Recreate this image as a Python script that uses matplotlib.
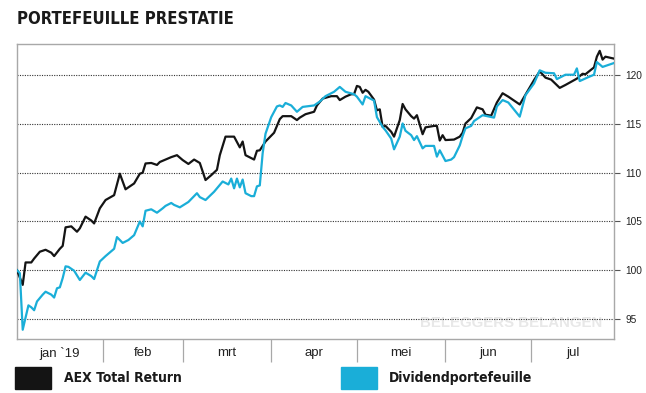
import matplotlib
matplotlib.use('Agg')
import matplotlib.pyplot as plt
import matplotlib.dates as mdates
import pandas as pd
from matplotlib.patches import Rectangle
from matplotlib import font_manager

# days after 1 jan 2019 and index values
aex_days = [1, 3, 4, 6, 7, 9, 11, 13, 14, 16, 17, 18, 20, 22, 23, 25, 27, 28, 30, 32,
            35, 37, 38, 39, 42, 44, 45, 46, 48, 50, 51, 55, 57, 59, 61, 63, 65, 67, 69, 71,
            72, 74, 77, 79, 80, 81, 84, 85, 86, 88, 91, 93, 94, 97, 99, 100, 102, 105, 106, 108,
            111, 113, 114, 116, 118, 119, 120, 121, 122, 123, 124, 126, 127, 128, 129, 130, 132, 133, 135, 136,
            137, 139, 140, 141, 143, 144, 147, 148, 149, 150, 151, 154, 156, 157, 158, 160, 162, 164, 165, 167,
            169, 171, 173, 177, 179, 182, 184, 186, 188, 191, 193, 197, 199, 200, 203, 204, 205, 206, 207, 210]
aex_vals = [100.0, 98.5, 100.8, 100.8, 101.2, 101.9, 102.1, 101.8, 101.45, 102.2, 102.5, 104.4, 104.5, 103.95, 104.3, 105.5, 105.1, 104.8, 106.35, 107.2,
            107.7, 109.9, 109.1, 108.3, 108.9, 109.9, 110.0, 110.95, 111.0, 110.8, 111.1, 111.6, 111.8, 111.3, 110.9, 111.35, 111.0, 109.25, 109.75, 110.3,
            111.8, 113.7, 113.7, 112.6, 113.2, 111.8, 111.35, 112.25, 112.3, 113.2, 114.1, 115.5, 115.8, 115.8, 115.4, 115.65, 116.0, 116.25, 116.9, 117.6,
            117.85, 117.85, 117.45, 117.8, 118.05, 118.05, 118.9, 118.8, 118.2, 118.5, 118.3, 117.5, 116.4, 116.5, 114.7, 114.8, 114.2, 113.7, 115.4, 117.05,
            116.5, 115.8, 115.55, 115.9, 113.95, 114.65, 114.8, 114.8, 113.3, 113.85, 113.35, 113.4, 113.7, 114.1, 115.05, 115.6, 116.7, 116.5, 115.95, 115.85,
            117.2, 118.15, 117.8, 117.0, 118.0, 119.5, 120.4, 119.75, 119.55, 118.7, 119.0, 119.65, 120.15, 120.1, 120.8, 121.9, 122.5, 121.6, 121.9, 121.7]

div_days = [1, 2, 3, 5, 6, 7, 8, 10, 11, 13, 14, 15, 16, 17, 18, 19, 21, 23, 25, 27,
            28, 30, 32, 35, 36, 38, 40, 42, 44, 45, 46, 48, 50, 52, 53, 55, 56, 58, 61, 64,
            65, 67, 70, 73, 75, 76, 77, 78, 79, 80, 81, 83, 84, 85, 86, 87, 88, 90, 92, 93,
            94, 95, 97, 99, 101, 105, 107, 109, 112, 114, 116, 119, 120, 122, 123, 126, 127, 129, 130, 132,
            133, 135, 136, 137, 139, 140, 141, 143, 144, 147, 148, 149, 151, 153, 154, 156, 157, 158, 160, 161,
            164, 168, 169, 171, 173, 177, 179, 182, 184, 186, 189, 190, 193, 196, 197, 198, 201, 203, 204, 206, 210]
div_vals = [100.0, 99.7, 93.9, 96.4, 96.2, 95.9, 96.8, 97.5, 97.8, 97.5, 97.2, 98.15, 98.25, 99.2, 100.4, 100.35, 99.95, 99.0, 99.75, 99.4,
            99.1, 100.9, 101.45, 102.2, 103.4, 102.8, 103.1, 103.6, 105.0, 104.5, 106.1, 106.25, 105.9, 106.35, 106.6, 106.9, 106.7, 106.45, 107.0, 107.9,
            107.5, 107.2, 108.05, 109.1, 108.8, 109.4, 108.4, 109.4, 108.5, 109.3, 107.9, 107.6, 107.6, 108.6, 108.7, 112.0, 114.0, 115.7, 116.8, 116.9,
            116.75, 117.15, 116.9, 116.25, 116.75, 116.9, 117.3, 117.85, 118.3, 118.8, 118.3, 118.05, 117.8, 117.0, 117.85, 117.4, 115.7, 114.7, 114.35, 113.5,
            112.4, 113.7, 115.05, 114.3, 113.85, 113.35, 113.75, 112.5, 112.75, 112.75, 111.65, 112.3, 111.2, 111.35, 111.6, 112.8, 113.75, 114.55, 114.8, 115.3,
            115.9, 115.65, 116.8, 117.45, 117.2, 115.75, 117.95, 119.15, 120.5, 120.25, 120.2, 119.6, 120.05, 120.05, 120.7, 119.4, 119.8, 120.05, 121.35, 120.85, 121.25]

month_labels = ['jan `19', 'feb', 'mrt', 'apr', 'mei', 'jun', 'jul']
month_starts = ['2019-02-01', '2019-03-01', '2019-04-01', '2019-05-01', '2019-06-01', '2019-07-01']
y_ticks = [95, 100, 105, 110, 115, 120]

black = '#141414'
blue = '#1aaed8'
grey = '#a8a8a8'

# look for a condensed bold face for the heading / legend
cond = None
for f in font_manager.fontManager.ttflist:
    if f.weight in ('bold', 700) and ('Condensed' in f.name or 'Narrow' in f.name or 'ondensed' in f.fname):
        cond = f.fname
        break
if cond:
    head_font = font_manager.FontProperties(fname=cond)
else:
    head_font = font_manager.FontProperties(family='DejaVu Sans', weight='bold')

start = pd.Timestamp('2019-01-01')
aex_dates = start + pd.to_timedelta(aex_days, unit='D')
div_dates = start + pd.to_timedelta(div_days, unit='D')

fig = plt.figure(figsize=(6.46, 3.93), dpi=100)
ax = fig.add_axes([17 / 646, 1 - 339 / 393, 597 / 646, 295 / 393])

ax.plot(aex_dates, aex_vals, color=black, lw=1.6, zorder=3)
ax.plot(div_dates, div_vals, color=blue, lw=1.6, zorder=4)

x0 = start + pd.Timedelta(days=1)
x1 = start + pd.Timedelta(days=210)
ax.set_xlim(x0, x1)
ax.set_ylim(92.95, 123.2)

# y axis on the right
ax.yaxis.tick_right()
ax.set_yticks(y_ticks)
ax.tick_params(axis='y', length=4, width=0.8, color='#555555', pad=4,
               labelsize=7.3, labelcolor='#222222')
for lab in ax.get_yticklabels():
    lab.set_family('Liberation Sans')
for v in y_ticks:
    ax.axhline(v, color='#333333', lw=0.8, ls=(0, (1, 1.2)), zorder=1)

# month separators and labels in between
bounds = [x0] + [pd.Timestamp(m) for m in month_starts] + [x1]
nums = [mdates.date2num(b) for b in bounds]
centers = [(a + b) / 2 for a, b in zip(nums[:-1], nums[1:])]
ax.set_xticks(centers)
ax.set_xticklabels(month_labels, family='Liberation Sans', fontsize=9.5, color='#222222')
ax.tick_params(axis='x', which='major', length=0, pad=6)
ax.set_xticks([mdates.date2num(pd.Timestamp(m)) for m in month_starts], minor=True)
ax.tick_params(axis='x', which='minor', length=16.5, width=0.9, color=grey)

for s in ax.spines.values():
    s.set_color(grey)
    s.set_linewidth(1.0)

ax.text(0.98, 0.03, 'BELEGGERS BELANGEN', transform=ax.transAxes, ha='right', va='bottom',
        fontsize=10.8, fontweight='bold', color='#e8e8e8', family='Liberation Sans', zorder=0)

fig.text(17 / 646, 1 - 19 / 393, 'PORTEFEUILLE PRESTATIE', ha='left', va='center',
         fontproperties=head_font, fontsize=12, color='#1a1a1a')

# legend
fig.patches.append(Rectangle((15 / 646, 1 - 389 / 393), 36 / 646, 22 / 393,
                             transform=fig.transFigure, color=black))
fig.text(64 / 646, 1 - 378 / 393, 'AEX Total Return', ha='left', va='center',
         fontproperties=head_font, fontsize=10, color='#1a1a1a')
fig.patches.append(Rectangle((341 / 646, 1 - 389 / 393), 36 / 646, 22 / 393,
                             transform=fig.transFigure, color=blue))
fig.text(389 / 646, 1 - 378 / 393, 'Dividendportefeuille', ha='left', va='center',
         fontproperties=head_font, fontsize=10, color='#1a1a1a')

fig.savefig('out.png', dpi=100)
